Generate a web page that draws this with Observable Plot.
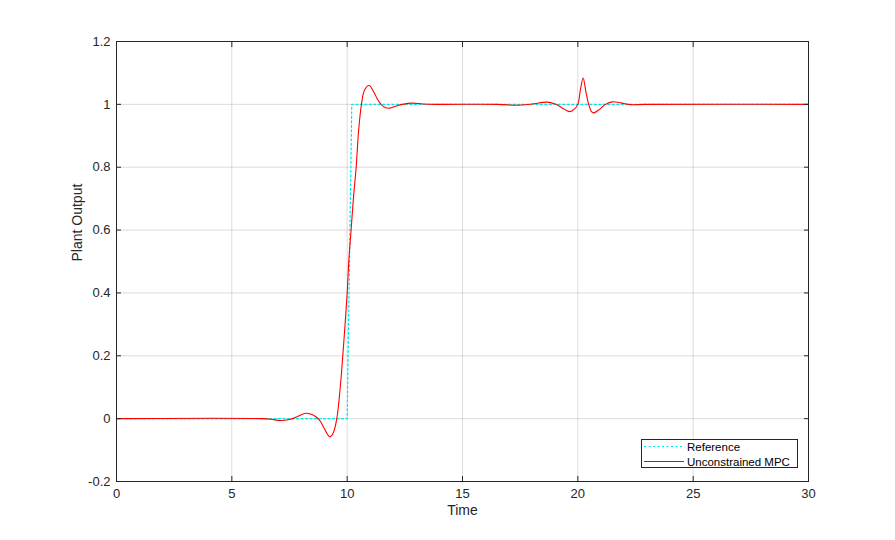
<!DOCTYPE html>
<html>
<head>
<meta charset="utf-8">
<script src="https://cdn.jsdelivr.net/npm/d3@7"></script>
<script src="https://cdn.jsdelivr.net/npm/@observablehq/plot@0.6"></script>
<style>
  html, body { margin: 0; padding: 0; background: #fff; }
  #wrap { position: relative; width: 895px; height: 540px; font-family: "Liberation Sans", Arial, Helvetica, sans-serif; }
  #legend { position: absolute; left: 641px; top: 439px; width: 157px; height: 29px; background: #fff; border: 1px solid #262626; box-sizing: border-box; }
</style>
</head>
<body>
<div id="wrap"></div>
<script>
// Tick values
const xTicks = [0, 5, 10, 15, 20, 25, 30];
const yTicks = [-0.2, 0, 0.2, 0.4, 0.6, 0.8, 1, 1.2];

// Reference signal (step)
const refTime = [0, 10, 10.2, 30];
const refValue = [0, 0, 1, 1];

// Unconstrained MPC plant output
const mpcTime = [0, 6.3, 6.7, 7.1, 7.5, 7.8, 8.2, 8.5, 8.8, 9.0, 9.25, 9.4, 9.55, 9.7, 9.81, 9.91, 10.0, 10.07, 10.17, 10.27, 10.39, 10.5, 10.62, 10.75, 10.95, 11.15, 11.3, 11.47, 11.65, 11.85, 12.1, 12.4, 12.8, 13.3, 14, 16.5, 17.4, 18.0, 18.7, 19.05, 19.4, 19.65, 19.85, 20.0, 20.12, 20.23, 20.35, 20.47, 20.6, 20.7, 20.95, 21.2, 21.5, 21.9, 22.3, 22.9, 30];
const mpcValue = [0, 0, -0.002, -0.006, -0.003, 0.005, 0.017, 0.012, -0.005, -0.03, -0.058, -0.045, 0.0, 0.1, 0.2, 0.3, 0.4, 0.5, 0.6, 0.7, 0.8, 0.92, 1.0, 1.045, 1.06, 1.04, 1.018, 1.0, 0.99, 0.988, 0.994, 1.0, 1.004, 1.001, 1.0, 1.0, 0.997, 1.001, 1.007, 1.0, 0.985, 0.977, 0.985, 1.0, 1.05, 1.084, 1.04, 1.0, 0.976, 0.973, 0.985, 1.0, 1.008, 1.004, 0.999, 1.0, 1.0];

const seriesNames = ["Reference", "Unconstrained MPC"];
const seriesColors = ["#00e5e5", "#ff0000"];

const refData = refTime.map((t, i) => ({t, v: refValue[i]}));
const mpcData = mpcTime.map((t, i) => ({t, v: mpcValue[i]}));
const fmt = d => String(Math.round(d * 10) / 10);

const chart = Plot.plot({
  width: 895,
  height: 540,
  marginLeft: 116,
  marginRight: 87,
  marginTop: 41,
  marginBottom: 59,
  style: {fontFamily: "'Liberation Sans', Arial, Helvetica, sans-serif", fontSize: "13px", background: "#fff", color: "#262626"},
  x: {domain: [0, 30]},
  y: {domain: [-0.2, 1.2]},
  marks: [
    Plot.gridX(xTicks, {stroke: "#000", strokeOpacity: 0.14}),
    Plot.gridY(yTicks, {stroke: "#000", strokeOpacity: 0.14}),
    Plot.line(refData, {x: "t", y: "v", stroke: seriesColors[0], strokeWidth: 1.2, strokeDasharray: "2,2.5"}),
    Plot.line(mpcData, {x: "t", y: "v", stroke: seriesColors[1], strokeWidth: 1.1, curve: "catmull-rom"}),
    Plot.frame({stroke: "#262626"}),
    Plot.axisX(xTicks, {anchor: "bottom", tickSize: -5, fill: "none", label: null, stroke: "#262626"}),
    Plot.axisX(xTicks, {anchor: "top", tickSize: -5, fill: "none", label: null, stroke: "#262626"}),
    Plot.axisY(yTicks, {anchor: "left", tickSize: -5, fill: "none", label: null, stroke: "#262626"}),
    Plot.axisY(yTicks, {anchor: "right", tickSize: -5, fill: "none", label: null, stroke: "#262626"}),
    Plot.axisX(xTicks, {anchor: "bottom", tickSize: 0, tickPadding: 7, tickFormat: fmt, label: null, fill: "#262626"}),
    Plot.axisY(yTicks, {anchor: "left", tickSize: 0, tickPadding: 6, tickFormat: fmt, label: null, fill: "#262626"}),
    Plot.text(["Time"], {text: d => d, frameAnchor: "bottom", dy: 33, fontSize: 14, fill: "#262626"}),
    Plot.text(["Plant Output"], {text: d => d, frameAnchor: "left", dx: -39, rotate: -90, fontSize: 14, fill: "#262626"})
  ]
});

const wrap = document.getElementById("wrap");
wrap.appendChild(chart);

// Legend
const legend = document.createElement("div");
legend.id = "legend";
const ns = "http://www.w3.org/2000/svg";
const lsvg = document.createElementNS(ns, "svg");
lsvg.setAttribute("width", "155");
lsvg.setAttribute("height", "27");
lsvg.style.display = "block";
seriesNames.forEach((name, i) => {
  const y = 6.5 + i * 15;
  const line = document.createElementNS(ns, "line");
  line.setAttribute("x1", "2");
  line.setAttribute("x2", "42");
  line.setAttribute("y1", y);
  line.setAttribute("y2", y);
  line.setAttribute("stroke", seriesColors[i]);
  line.setAttribute("stroke-width", i === 0 ? "1.2" : "1.1");
  if (i === 0) line.setAttribute("stroke-dasharray", "2,2.5");
  lsvg.appendChild(line);
  const txt = document.createElementNS(ns, "text");
  txt.setAttribute("x", "45");
  txt.setAttribute("y", y);
  txt.setAttribute("dy", "0.35em");
  txt.setAttribute("font-size", "11.5");
  txt.setAttribute("fill", "#000");
  txt.setAttribute("font-family", "'Liberation Sans', Arial, Helvetica, sans-serif");
  txt.textContent = name;
  lsvg.appendChild(txt);
});
legend.appendChild(lsvg);
wrap.appendChild(legend);
</script>
</body>
</html>
